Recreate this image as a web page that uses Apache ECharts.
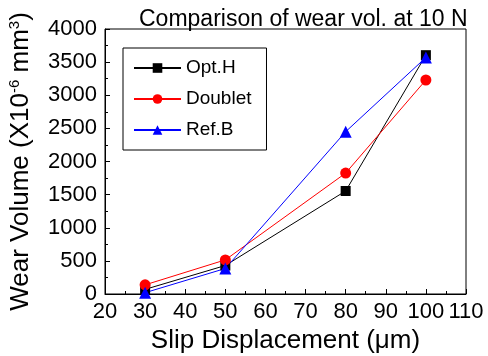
<!DOCTYPE html>
<html>
<head>
<meta charset="utf-8">
<script src="https://cdn.jsdelivr.net/npm/echarts@6/dist/echarts.min.js"></script>
<style>
  html, body { margin: 0; padding: 0; background: #fff; }
  #main { width: 488px; height: 356px; }
</style>
</head>
<body>
<div id="main"></div>
<script>
// wear volume vs slip displacement
var slip = [30, 50, 80, 100];
var optH = [70, 430, 1555, 3605];
var doublet = [138, 515, 1825, 3230];
var refB = [20, 385, 2450, 3570];

var seriesNames = ['Opt.H', 'Doublet', 'Ref.B'];

function pairs(ys) {
    var out = [];
    for (var i = 0; i < slip.length; i++) {
        out.push([slip[i], ys[i]]);
    }
    return out;
}

var font = 'Liberation Sans, Arial, sans-serif';

var myChart = echarts.init(document.getElementById('main'));

var option = {
    animation: false,
    backgroundColor: '#fff',
    title: {
        text: 'Comparison of wear vol. at 10 N',
        left: 134,
        top: 3,
        textStyle: { fontFamily: font, fontSize: 23, fontWeight: 'normal', color: '#000' }
    },
    legend: {
        orient: 'vertical',
        left: 123,
        top: 48,
        padding: [10, 15, 10, 10],
        borderColor: '#000',
        borderWidth: 1,
        itemWidth: 47,
        itemHeight: 12,
        itemGap: 11,
        data: seriesNames,
        textStyle: { fontFamily: font, fontSize: 19, color: '#000', lineHeight: 20 }
    },
    grid: {
        left: 105,
        right: 22,
        top: 29,
        bottom: 62,
        outerBoundsMode: 'none',
        show: true,
        borderColor: '#000',
        borderWidth: 1
    },
    xAxis: {
        type: 'value',
        min: 20,
        max: 110,
        interval: 10,
        name: 'Slip Displacement (\u03bcm)',
        nameLocation: 'middle',
        nameGap: 27,
        nameTextStyle: { fontFamily: font, fontSize: 26, color: '#000' },
        axisLine: { lineStyle: { color: '#000', width: 1 } },
        axisTick: { inside: true, length: 5, lineStyle: { color: '#000' } },
        minorTick: { show: true, splitNumber: 2, length: 3, lineStyle: { color: '#000' } },
        axisLabel: { fontFamily: font, fontSize: 22, color: '#000', margin: 7, hideOverlap: false,
            formatter: function (v) { return String(v); } },
        splitLine: { show: false }
    },
    yAxis: {
        type: 'value',
        min: 0,
        max: 4000,
        interval: 500,
        name: '{m|Wear Volume (X10}{s|-6}{m| mm}{s|3}{m|)}',
        nameLocation: 'middle',
        nameRotate: 90,
        nameGap: 70,
        nameTextStyle: {
            rich: {
                m: { fontFamily: font, fontSize: 26, color: '#000' },
                s: { fontFamily: font, fontSize: 15, color: '#000', verticalAlign: 'top', padding: [0, 0, 13, 0] }
            }
        },
        axisLine: { show: true, lineStyle: { color: '#000', width: 1 } },
        axisTick: { show: true, inside: true, length: 5, lineStyle: { color: '#000' } },
        minorTick: { show: true, splitNumber: 2, length: 3, lineStyle: { color: '#000' } },
        axisLabel: { fontFamily: font, fontSize: 22, color: '#000', margin: 8,
            formatter: function (v) { return String(v); } },
        splitLine: { show: false }
    },
    series: [
        {
            name: 'Opt.H',
            type: 'line',
            data: pairs(optH),
            symbol: 'rect',
            symbolSize: 10,
            color: '#000',
            lineStyle: { width: 1, color: '#000' },
            itemStyle: { color: '#000' }
        },
        {
            name: 'Doublet',
            type: 'line',
            data: pairs(doublet),
            symbol: 'circle',
            symbolSize: 11,
            color: '#ff0000',
            lineStyle: { width: 1, color: '#ff0000' },
            itemStyle: { color: '#ff0000' }
        },
        {
            name: 'Ref.B',
            type: 'line',
            data: pairs(refB),
            symbol: 'triangle',
            symbolSize: 12,
            color: '#0000ff',
            lineStyle: { width: 1, color: '#0000ff' },
            itemStyle: { color: '#0000ff' }
        }
    ]
};

myChart.setOption(option);
window.onresize = myChart.resize;
</script>
</body>
</html>
